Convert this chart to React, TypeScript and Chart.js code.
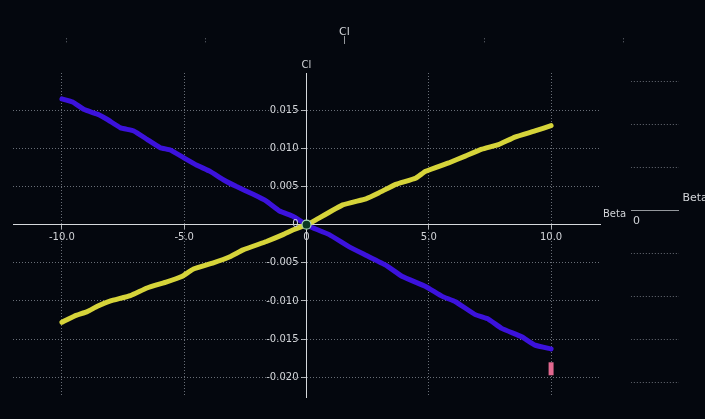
import React, { useEffect, useRef } from "react";
import { Chart, registerables } from "chart.js";
Chart.register(...registerables);

// ---- data ----
const blueBeta = [-10, -9.56, -9.09, -8.55, -8.14, -7.6, -7.06, -6.52, -5.98, -5.57, -5.03, -4.48, -3.94, -3.4, -2.86, -2.18, -1.64, -1.1, -0.56, -0.15, 0, 0.25, 0.93, 1.75, 2.43, 3.24, 3.92, 4.87, 5.55, 6.09, 6.9, 7.44, 7.98, 8.8, 9.34, 10];
const blueCl = [0.0165, 0.0161, 0.0151, 0.0145, 0.0138, 0.0127, 0.0123, 0.0112, 0.0101, 0.0098, 0.0088, 0.0078, 0.007, 0.0059, 0.005, 0.004, 0.0031, 0.0018, 0.0011, 0.0003, 0, -0.0004, -0.0013, -0.0029, -0.004, -0.0053, -0.0068, -0.0081, -0.0094, -0.0101, -0.0118, -0.0124, -0.0136, -0.0147, -0.0158, -0.0163];
const yellowBeta = [-10, -9.5, -8.96, -8.55, -8.01, -7.2, -6.52, -5.71, -5.1, -4.62, -3.81, -3.13, -2.59, -1.64, -0.96, -0.56, 0, 0.26, 1.48, 2.43, 2.97, 3.65, 4.46, 4.87, 5.81, 6.49, 7.17, 7.85, 8.52, 9.34, 10];
const yellowCl = [-0.0128, -0.012, -0.0114, -0.0107, -0.01, -0.0093, -0.0083, -0.0075, -0.0068, -0.0058, -0.005, -0.0042, -0.0033, -0.0022, -0.0013, -0.0007, 0, 0.0004, 0.0026, 0.0034, 0.0042, 0.0053, 0.0061, 0.007, 0.0081, 0.009, 0.0099, 0.0105, 0.0115, 0.0123, 0.013];
const originPoint = [{ x: 0, y: 0 }];
const markerPoint = [{ x: 10, y: -0.0189 }];
const xTicks = [-10, -5, 0, 5, 10];
const yTicks = [-0.02, -0.015, -0.01, -0.005, 0, 0.005, 0.01, 0.015];
const xTitle = "Beta";
const yTitle = "Cl";

const BG = "#04070e";
const LABEL = "#d2d4d8";
const GRID = "rgba(190,195,205,0.55)";
const FONT = "DejaVu Sans";

const fmtX = (v: number) => (v === 0 ? "0" : v.toFixed(1));
const fmtY = (v: number) => (Math.abs(v) < 1e-12 ? "0" : v.toFixed(3));

const overlayPlugin = {
  id: "overlay",
  afterDraw(chart: any) {
    const { ctx, chartArea, scales } = chart;
    const xs = scales.x;
    const ys = scales.y;
    const x0 = xs.getPixelForValue(0);
    const y0 = ys.getPixelForValue(0);
    ctx.save();
    ctx.fillStyle = LABEL;
    ctx.font = `10px "${FONT}"`;
    // y tick labels, left of the centred axis
    ctx.textAlign = "right";
    ctx.textBaseline = "middle";
    for (const t of ys.ticks) {
      ctx.fillText(fmtY(t.value), x0 - 8, ys.getPixelForValue(t.value));
    }
    ctx.textAlign = "center";
    ctx.textBaseline = "bottom";
    ctx.fillText(yTitle, x0, chartArea.top - 3);
    ctx.textAlign = "left";
    ctx.textBaseline = "alphabetic";
    ctx.fillText(xTitle, chartArea.right + 3, y0 - 8);

    // faint ghost copy of the frame (scaled duplicate seen at the edges)
    const sx = 1.14, cx = 35.7, sy = 1.13, cy = 340;
    const gx = (p: number) => cx + sx * (p - cx);
    const gy = (p: number) => cy + sy * (p - cy);
    const W = chart.width, H = chart.height;
    ctx.beginPath();
    ctx.rect(0, 0, W, 44);
    ctx.rect(631, 44, W - 631, H - 44);
    ctx.clip();
    ctx.strokeStyle = GRID;
    ctx.lineWidth = 1;
    ctx.setLineDash([1, 2]);
    for (const v of xTicks) {
      if (v === 0) continue;
      const p = Math.round(gx(xs.getPixelForValue(v))) + 0.5;
      ctx.beginPath();
      ctx.moveTo(p, gy(chartArea.top));
      ctx.lineTo(p, gy(chartArea.bottom));
      ctx.stroke();
    }
    for (const v of yTicks) {
      if (v === 0) continue;
      const p = Math.round(gy(ys.getPixelForValue(v))) + 0.5;
      ctx.beginPath();
      ctx.moveTo(gx(chartArea.left), p);
      ctx.lineTo(gx(chartArea.right), p);
      ctx.stroke();
    }
    ctx.setLineDash([]);
    ctx.strokeStyle = "rgba(210,212,216,0.7)";
    ctx.beginPath();
    const ay = Math.round(gy(y0)) + 0.5;
    ctx.moveTo(gx(chartArea.left), ay);
    ctx.lineTo(gx(chartArea.right), ay);
    const ax = Math.round(gx(x0)) + 0.5;
    ctx.moveTo(ax, gy(chartArea.top - 2));
    ctx.lineTo(ax, gy(chartArea.bottom));
    ctx.stroke();
    ctx.fillStyle = LABEL;
    ctx.font = `11px "${FONT}"`;
    ctx.textAlign = "center";
    ctx.textBaseline = "bottom";
    ctx.fillText(yTitle, gx(x0), gy(chartArea.top - 1));
    ctx.textAlign = "left";
    ctx.textBaseline = "alphabetic";
    ctx.fillText(xTitle, gx(chartArea.right + 3), gy(y0 - 8));
    ctx.textBaseline = "top";
    ctx.fillText("0", 633, ay + 5);
    ctx.restore();
  },
};

export default function App() {
  const ref = useRef<HTMLCanvasElement | null>(null);
  useEffect(() => {
    if (!ref.current) return;
    const chart = new Chart(ref.current, {
      type: "scatter",
      data: {
        datasets: [
          {
            label: "marker",
            data: markerPoint,
            pointStyle: "line",
            rotation: 90,
            pointRadius: 6.5,
            pointBorderWidth: 5,
            borderColor: "#e2688f",
            backgroundColor: "#e2688f",
            order: 0,
          } as any,
          {
            label: "origin",
            data: originPoint,
            pointRadius: 4.5,
            pointBorderWidth: 1.2,
            backgroundColor: "#0b3a22",
            borderColor: "#a9d8b8",
            order: 0,
          },
          {
            label: "yellow",
            data: yellowBeta.map((x, i) => ({ x, y: yellowCl[i] })),
            showLine: true,
            borderColor: "#d6d43a",
            backgroundColor: "#d6d43a",
            borderWidth: 5,
            pointRadius: 0,
            borderCapStyle: "round",
            borderJoinStyle: "round",
            tension: 0.1,
            order: 1,
          },
          {
            label: "blue",
            data: blueBeta.map((x, i) => ({ x, y: blueCl[i] })),
            showLine: true,
            borderColor: "#3c12dc",
            backgroundColor: "#3c12dc",
            borderWidth: 5,
            pointRadius: 0,
            borderCapStyle: "round",
            borderJoinStyle: "round",
            tension: 0.1,
            order: 2,
          },
        ],
      },
      options: {
        animation: false,
        responsive: false,
        events: [],
        layout: { padding: { left: 13, right: 105, top: 73, bottom: 22 } },
        plugins: { legend: { display: false }, tooltip: { enabled: false } },
        scales: {
          x: {
            type: "linear",
            position: { y: 0 } as any,
            min: -12,
            max: 12,
            afterBuildTicks: (s: any) => {
              s.ticks = xTicks.map((v) => ({ value: v }));
            },
            ticks: {
              color: LABEL,
              font: { family: FONT, size: 10 },
              padding: 3,
              maxRotation: 0,
              callback: (v: any) => fmtX(Number(v)),
            },
            grid: {
              color: GRID,
              lineWidth: 1,
              drawTicks: true,
              tickLength: 4,
              tickColor: "rgba(210,212,216,0.8)",
              tickBorderDash: [],
            } as any,
            border: { display: true, color: "#d6d8dc", width: 1, dash: [1, 2] } as any,
          },
          y: {
            type: "linear",
            position: { x: 0 } as any,
            min: -0.0226,
            max: 0.0199,
            afterBuildTicks: (s: any) => {
              s.ticks = yTicks.map((v) => ({ value: v }));
            },
            ticks: {
              display: false,
            },
            grid: {
              color: GRID,
              lineWidth: 1,
              drawTicks: true,
              tickLength: 5,
              tickColor: "rgba(210,212,216,0.8)",
              tickBorderDash: [],
            } as any,
            border: { display: true, color: "#d6d8dc", width: 1, dash: [1, 2] } as any,
          },
        },
      },
      plugins: [overlayPlugin],
    } as any);
    return () => chart.destroy();
  }, []);
  return (
    <div style={{ position: "fixed", left: 0, top: 0, width: 705, height: 419, background: BG }}>
      <canvas ref={ref} width={705} height={419} style={{ display: "block", width: 705, height: 419 }} />
    </div>
  );
}
